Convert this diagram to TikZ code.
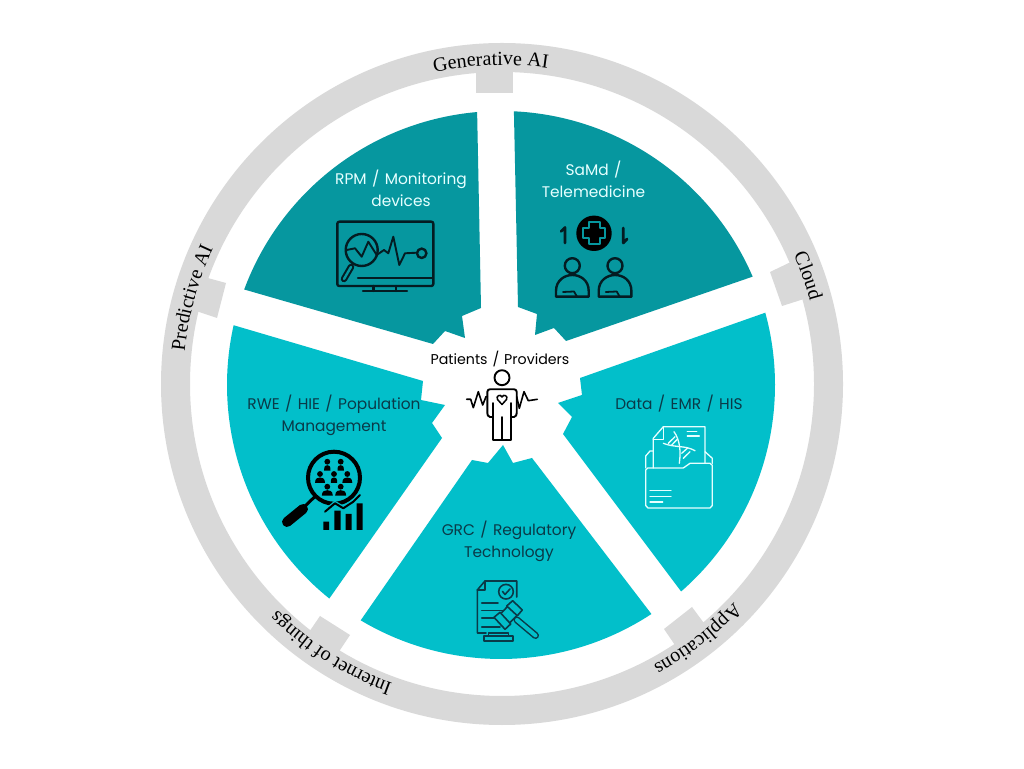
\documentclass[tikz,border=0pt]{standalone}
\usepackage{fontspec}
\setmainfont[WordSpace=1.3]{Poppins}
\newfontfamily\ringfont{Liberation Serif}
\usetikzlibrary{decorations.text}
\definecolor{teald}{HTML}{06979F}
\definecolor{tealc}{HTML}{02BFCA}
\definecolor{ringg}{HTML}{D9D9D9}
\definecolor{lighttxt}{HTML}{E6FFFF}
\definecolor{darktxt}{HTML}{0A3A48}
\definecolor{inkk}{HTML}{041C22}
\tikzset{
  img/.style={shift={(0,768)},yscale=-1},
  sectordark/.style={fill=teald},
  sectorcyan/.style={fill=tealc},
  ringpart/.style={fill=ringg},
  lab/.style={font=\fontsize{15.4}{22}\selectfont,align=center,inner sep=0pt},
  lablight/.style={lab,text=lighttxt},
  labdark/.style={lab,text=darktxt},
  ink/.style={draw=inkk,line width=2.4pt,line join=round,line cap=round},
  inkb/.style={draw=black,line width=1.9pt,line join=round,line cap=round},
  pale/.style={draw=lighttxt,line width=1.3pt,line join=round,line cap=round},
  inkd/.style={draw=darktxt,line width=1.6pt,line join=round,line cap=round},
  ringtxt/.style={decorate,decoration={text along path,text align=center,text={#1}}}
}
\begin{document}
\begin{tikzpicture}[x=1pt,y=1pt]
\useasboundingbox (0,0) rectangle (1024,768);
\fill[white] (0,0) rectangle (1024,768);
\begin{scope}[img]
% ring
\path[ringpart,even odd rule] (502,384) circle[radius=341] (502,384) circle[radius=312];
\fill[ringpart] (476,70) -- (476,93) -- (513,93) -- (513,70) -- cycle;
\fill[ringpart] (770,272) -- (782,306) -- (807,298) -- (795,260) -- cycle;
\fill[ringpart] (692,607) -- (664,629) -- (679,651) -- (709,630) -- cycle;
\fill[ringpart] (320,616) -- (350,635) -- (336,656) -- (305,638) -- cycle;
\fill[ringpart] (204,277) -- (226,283) -- (217,318) -- (193,310) -- cycle;
% sectors
\fill[sectordark] ([shift={(501,385)}]-95:274) arc[start angle=-95,end angle=-159.6,radius=274] -- (433,344) -- (445,331) -- (465,338) -- (462,316) -- (481,308) -- cycle;
\fill[sectordark] ([shift={(501,385)}]-23.3:274) arc[start angle=-23.3,end angle=-87.3,radius=274] -- (518,307) -- (537,314) -- (535,335) -- (554,328) -- (566,341) -- cycle;
\fill[sectorcyan] ([shift={(501,385)}]48.9:274) arc[start angle=48.9,end angle=-15.3,radius=274] -- (580,378) -- (582,395) -- (558,403) -- (572,417) -- (563,434) -- cycle;
\fill[sectorcyan] ([shift={(501,385)}]120.8:274) arc[start angle=120.8,end angle=56.7,radius=274] -- (532,458) -- (513,463) -- (503,445) -- (488,463) -- (472,460) -- cycle;
\fill[sectorcyan] ([shift={(501,385)}]-167.4:274) arc[start angle=-167.4,end angle=-231.2,radius=274] -- (442,438) -- (432,423) -- (445,405) -- (421,400) -- (423,381) -- cycle;
% labels
\node[lablight] (rpm) at (401,188) {RPM / Monitoring\\devices};
\node[lablight] (samd) at (593.5,179) {SaMd /\\Telemedicine};
\node[labdark] (data) at (679,403.5) {Data / EMR / HIS};
\node[labdark] (rwe) at (334,415) {RWE / HIE / Population\\Management};
\node[labdark] (grc) at (509,541) {GRC / Regulatory\\Technology};
\node[font=\fontsize{14.2}{16}\selectfont,text=black,inner sep=0pt] (pat) at (500,359.5) {Patients / Providers};
% monitor icon
\draw[ink,rounded corners=2pt] (337.3,221.7) rectangle (433.3,286);
\draw[ink] (358,278.3) -- (432,278.3) (373.3,286) -- (373.3,291) (395.7,286) -- (395.7,291) (363,291) -- (407,291);
\draw[ink] (361.7,250) circle[radius=16];
\draw[inkk,line width=6.5pt,line cap=round] (351,267) -- (344,279);
\draw[teald,line width=2.4pt,line cap=round] (351,267) -- (344,279);
\draw[ink,line width=1.9pt] (346.7,250) -- (355,248.3) -- (361.7,256.7) -- (368.3,241.7) -- (376.7,255) -- (384,250) -- (388.3,253.3) -- (393.3,236.7) -- (399.3,265) -- (405,253.3) -- (416.7,252.7);
\draw[ink] (421.7,253.3) circle[radius=4.7];
% telemedicine icon
\draw[ink,line width=2.8pt] (565,243) -- (565,227.5) -- (561,231.5);
\draw[ink,line width=2.8pt] (623.3,228) -- (623.3,243) -- (627,239);
\fill[black] (594,233.3) circle[radius=17.7];
\draw[teald,line width=2pt,line join=round] (588.5,222.5) -- (599.5,222.5) -- (599.5,228) -- (605,228) -- (605,238.5) -- (599.5,238.5) -- (599.5,244) -- (588.5,244) -- (588.5,238.5) -- (583,238.5) -- (583,228) -- (588.5,228) -- cycle;
\foreach \px in {0,42.7}{
  \draw[ink] (572.3+\px,265.7) circle[radius=7.5];
  \draw[ink] (556+\px,296.7) -- (556+\px,291) .. controls (556+\px,280) and (565+\px,275) .. (572.3+\px,275) .. controls (580+\px,275) and (588.7+\px,280) .. (588.7+\px,291) -- (588.7+\px,296.7) -- cycle;
  \draw[ink,line width=1.8pt] (563+\px,292) -- (574+\px,291.5) -- (577+\px,296.7);
}
% person icon
\draw[inkb] (502,377.7) circle[radius=7.5];
\draw[inkb] (493.3,403) -- (493.3,440) -- (511,440) -- (511,403) (502,417) -- (502,440);
\draw[inkb] (493,417) -- (490,417) .. controls (488,416.5) and (487.3,415) .. (487.3,413) -- (487.3,392) .. controls (487.3,390) and (488.5,389.3) .. (490,389.3) -- (514,389.3) .. controls (515.5,389.3) and (516.7,390) .. (516.7,392) -- (516.7,413) .. controls (516.7,415) and (516,416.5) .. (514,417) -- (511,417);
\draw[inkb,line width=1.5pt] (502,404.5) -- (497.5,399.5) .. controls (495.5,396) and (500.5,393.5) .. (502,397) .. controls (503.5,393.5) and (508.5,396) .. (506.5,399.5) -- cycle;
\draw[inkb,line width=1.6pt] (466.7,399.3) -- (470.7,399.3) -- (473.3,407.7) -- (478.3,391.7) -- (482.7,405) -- (486,396.7) -- (487.3,396.7);
\draw[inkb,line width=1.6pt] (516.7,396.7) -- (519.3,408.3) -- (524,391.7) -- (528.3,400.7) -- (537.3,399.3);
% folder icon
\draw[pale] (647.7,468) -- (683.3,468) -- (690,463.3) -- (710,463.3) -- (712.3,465.3) -- (712.3,505.5) -- (710,508) -- (648,508) -- (645.7,505.5) -- (645.7,470) -- cycle;
\draw[pale] (645.7,468) -- (645.7,456) -- (650,451) -- (653.3,451);
\draw[pale] (705,451.7) -- (712.3,458.3) -- (712.3,463.3);
\draw[pale] (653.3,468) -- (653.3,438.3) -- (663.3,426.7) -- (705,426.7) -- (705,463.3);
\draw[pale] (653.3,439.3) -- (663.3,439.3) -- (663.3,426.7);
\draw[pale] (687.3,431.7) -- (696.7,431.7) (687.3,436) -- (699.3,436);
\draw[pale] (650,490.7) -- (671,490.7) (650,496.7) -- (671,496.7) (650,502) -- (662.7,502);
\draw[pale] (674,431.7) .. controls (680,440) and (681,452) .. (679.3,463.3);
\draw[pale] (663.3,443.3) .. controls (675,448) and (685,445) .. (695,450.7);
\draw[pale] (668.3,443.3) -- (675,436.7) (671.7,445) -- (677.3,439.3) (683.3,458.3) -- (690,451.7) (681.7,453.3) -- (687.3,448.3);
% gavel icon
\draw[inkd] (516.7,597) -- (516.7,581) -- (485,581) -- (477.3,590) -- (477.3,633) -- (486,633);
\draw[inkd] (477.3,590) -- (485,590) -- (485,581);
\draw[inkd] (506,591.7) circle[radius=7.3];
\draw[inkd] (502.5,591.5) -- (505,594.5) -- (510,589);
\draw[inkd] (481.7,603.3) -- (498,603.3) (481.7,610.7) -- (503,610.7) (481.7,618.3) -- (495,618.3) (481.7,626.7) -- (500,626.7);
\draw[inkd,fill=tealc] (498.3,616) -- (510.7,603.3) -- (520,612.3) -- (507.7,625) -- cycle;
\draw[inkd,fill=tealc] (506.7,606) -- (512.7,600.7) -- (522.3,610) -- (517.3,615.7) -- cycle;
\draw[inkd,fill=tealc] (494,617.3) -- (500,612.3) -- (510.7,624) -- (505,629.3) -- cycle;
\draw[darktxt,line width=7pt,line cap=round] (517,620) -- (535.5,635.5);
\draw[tealc,line width=4pt,line cap=round] (517,620) -- (535.5,635.5);
\draw[inkd] (488.3,636) -- (488.3,632.7) -- (508.3,632.7) -- (508.3,636) (484,636) rectangle (513,640.7);
% magnifier icon
\draw[black,line width=4pt] (334,477.7) circle[radius=26];
\draw[black,line width=3pt] (315,496.5) -- (303,508);
\draw[black,line width=10pt,line cap=round] (303,509) -- (287,522);
\foreach \hx/\hy/\w in {327.3/461.7/3.2,340.7/461.7/3.2,320/474/5,334/474/3.2,347.3/474/5,327.3/486.7/5.5,340.7/486.7/5.5}{
  \fill[black] (\hx,\hy) circle[radius=2.9];
  \fill[black] (\hx-\w,\hy+9) .. controls (\hx-\w,\hy+4) and (\hx-2,\hy+3.5) .. (\hx,\hy+3.5) .. controls (\hx+2,\hy+3.5) and (\hx+\w,\hy+4) .. (\hx+\w,\hy+9) -- cycle;
}
\fill[black] (323.3,521.7) rectangle (329,530) (334.3,510.7) rectangle (340.5,530) (345.7,514) rectangle (351.7,530) (356.7,503.3) rectangle (362.5,530);
\draw[tealc,line width=4.5pt] (325,511.7) -- (335,503.3) -- (343.3,508.3) -- (353.3,501.7);
\draw[black,line width=2pt,line cap=round,line join=round] (325,511.7) -- (335,503.3) -- (343.3,508.3) -- (353.3,501.7) -- (360,495);
\end{scope}
% ring labels: along the circle, y up
\begin{scope}[shift={(502,384)}]
\newcommand\rtf{|\ringfont\fontsize{20}{20}\selectfont|}
\path[ringtxt={\rtf Generative AI}] (132:319) arc[start angle=132,end angle=52,radius=319];
\path[ringtxt={\rtf Cloud}] (59.5:319) arc[start angle=59.5,end angle=-20.5,radius=319];
\path[ringtxt={\rtf Applications}] (-12.5:319) arc[start angle=-12.5,end angle=-92.5,radius=319];
\path[ringtxt={\rtf Internet of things}] (-82.4:319) arc[start angle=-82.4,end angle=-162.4,radius=319];
\path[ringtxt={\rtf Predictive AI}] (204.5:319) arc[start angle=204.5,end angle=124.5,radius=319];
\end{scope}
\end{tikzpicture}
\end{document}
